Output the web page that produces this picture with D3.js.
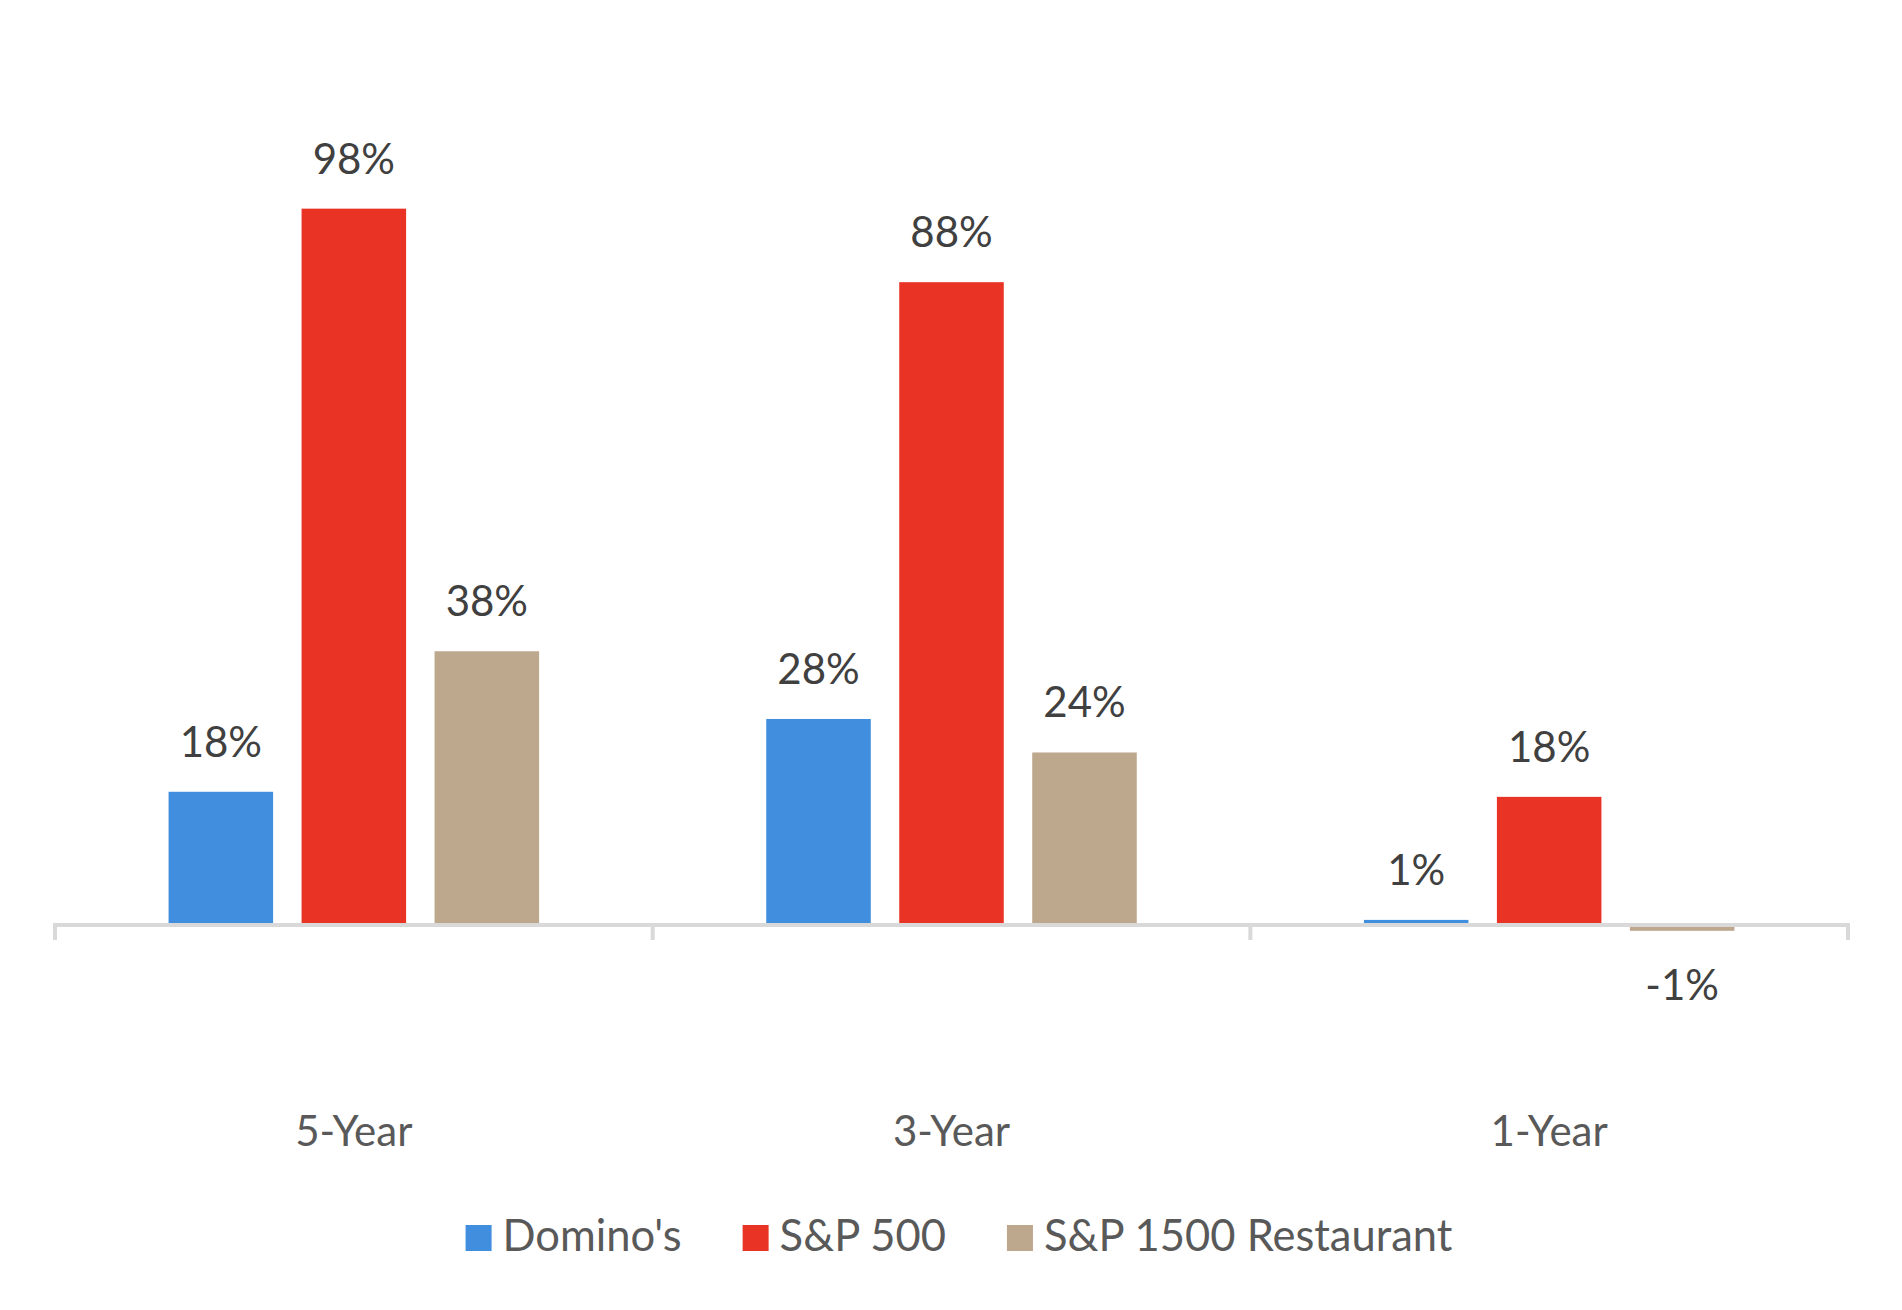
<!DOCTYPE html>
<html>
<head>
<meta charset="utf-8">
<script src="https://cdn.jsdelivr.net/npm/d3@7"></script>
<style>
    body { margin: 0; background: #ffffff; }
    svg { display: block; }
</style>
</head>
<body>
<div id="chart"></div>
<script>

// periods on the x axis
const periods = ["5-Year", "3-Year", "1-Year"]

// series names and colours (legend order)
const series = ["Domino's", "S&P 500", "S&P 1500 Restaurant"]
const series_colors = ["#408EDD", "#E93425", "#BDA78D"]

// cumulative return in %, one value per period
const dominos_values = [18.3, 28.3, 0.7]
const sp500_values = [98.4, 88.3, 17.6]
const restaurant_values = [37.6, 23.7, -0.8]

const width = 1902
const height = 1310

const svg = d3.select("#chart").append("svg")
    .attr("width", width)
    .attr("height", height)
    .attr("viewBox", [0, 0, width, height])

const font = "Lato, 'Open Sans', sans-serif"

// one row per (period, series)
const values_by_series = [dominos_values, sp500_values, restaurant_values]
const rows = []
periods.forEach((p, i) => {
    series.forEach((s, j) => {
        rows.push({period: p, series: s, value: values_by_series[j][i], color: series_colors[j]})
    })
})

const x0 = d3.scaleBand()
    .domain(periods)
    .range([55, 1848])
    .padding(0)

const x1 = d3.scaleBand()
    .domain(series)
    .range([0, x0.bandwidth()])
    .paddingInner(0.214)
    .paddingOuter(0.854)

const y = d3.scaleLinear()
    .domain([-20, 120])
    .range([1070.6, 51.4])

// bars
svg.append("g").selectAll("rect")
    .data(rows)
    .join("rect")
    .attr("x", d => x0(d.period) + x1(d.series))
    .attr("y", d => Math.min(y(d.value), y(0)))
    .attr("width", x1.bandwidth())
    .attr("height", d => Math.abs(y(d.value) - y(0)))
    .attr("fill", d => d.color)

// category axis: line at zero, ticks between categories, labels low
const axis = d3.axisBottom(x0).tickSize(0).tickPadding(0)
const g_axis = svg.append("g")
    .attr("transform", `translate(0,${y(0)})`)
    .call(axis)

g_axis.select(".domain").remove()
g_axis.selectAll(".tick line").remove()

g_axis.append("line")
    .attr("x1", x0.range()[0] - 2)
    .attr("x2", x0.range()[1] + 2)
    .attr("y1", 0)
    .attr("y2", 0)
    .attr("stroke", "#d9d9d9")
    .attr("stroke-width", 4)

const boundaries = periods.map(p => x0(p)).concat([x0.range()[1]])
g_axis.selectAll(".sep")
    .data(boundaries)
    .join("line")
    .attr("class", "sep")
    .attr("x1", d => d)
    .attr("x2", d => d)
    .attr("y1", 0)
    .attr("y2", 15)
    .attr("stroke", "#d9d9d9")
    .attr("stroke-width", 4)

g_axis.selectAll(".tick text")
    .attr("y", 1146 - y(0))
    .attr("dy", 0)
    .style("font-family", font)
    .style("font-size", "42px")
    .style("fill", "#595959")

// value labels
svg.append("g").selectAll("text")
    .data(rows)
    .join("text")
    .attr("x", d => x0(d.period) + x1(d.series) + x1.bandwidth() / 2)
    .attr("y", d => d.value >= 0 ? y(d.value) - 35 : y(d.value) + 69)
    .attr("text-anchor", "middle")
    .style("font-family", font)
    .style("font-size", "42px")
    .style("fill", "#404040")
    .text(d => Math.round(d.value) + "%")

// legend, centred under the plot
const legend = svg.append("g")
let cursor = 0
series.forEach((s, j) => {
    const item = legend.append("g").attr("transform", `translate(${cursor},0)`)
    item.append("rect")
        .attr("x", 0)
        .attr("y", 1225)
        .attr("width", 26)
        .attr("height", 26)
        .attr("fill", series_colors[j])
    const t = item.append("text")
        .attr("x", 37)
        .attr("y", 1251)
        .style("font-family", font)
        .style("font-size", "43.5px")
        .style("fill", "#595959")
        .text(s)
    cursor += 37 + t.node().getComputedTextLength() + 61
})
const legend_width = cursor - 61
legend.attr("transform", `translate(${959 - legend_width / 2},0)`)

</script>
</body>
</html>
